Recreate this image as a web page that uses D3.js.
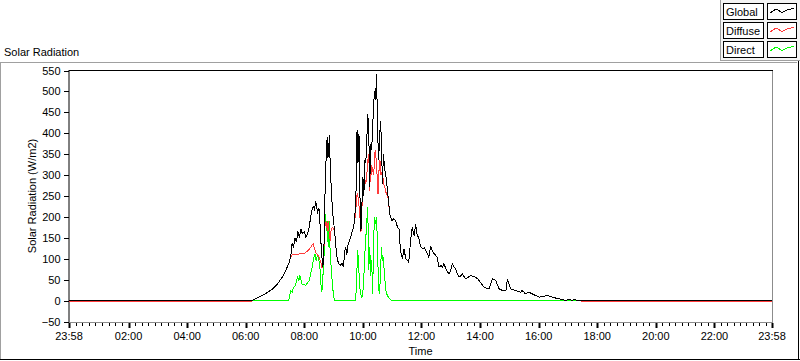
<!DOCTYPE html>
<html>
<head>
<meta charset="utf-8">
<script src="https://cdn.jsdelivr.net/npm/d3@7"></script>
<style>
  body { margin: 0; background: #fff; }
  svg { display: block; font-family: "Liberation Sans", Arial, sans-serif; font-size: 11px; }
</style>
</head>
<body>
<svg id="chart" width="800" height="361"></svg>
<script>
// Global radiation (W/m2)
const globalTime = ['23:58','06:13','06:20','06:27','06:40','06:48','06:55','07:05','07:15','07:22','07:28','07:32','07:35','07:38','07:41','07:44','07:47','07:50','07:53','07:56','08:00','08:03','08:07','08:10','08:13','08:16','08:19','08:21','08:23','08:25','08:27','08:30','08:32','08:34','08:36','08:38','08:40','08:42','08:44','08:46','08:47','08:48','08:50','08:51','08:53','08:55','08:58','09:02','09:06','09:10','09:14','09:17','09:20','09:23','09:25','09:27','09:29','09:32','09:35','09:38','09:41','09:43','09:45','09:47','09:48','09:50','09:52','09:54','09:56','09:58','10:00','10:02','10:04','10:06','10:08','10:10','10:12','10:14','10:16','10:18','10:20','10:22','10:24','10:26','10:28','10:30','10:32','10:34','10:36','10:38','10:40','10:42','10:45','10:48','10:51','10:55','10:59','11:03','11:07','11:11','11:14','11:17','11:21','11:24','11:28','11:31','11:34','11:38','11:41','11:45','11:48','11:51','11:55','11:58','12:02','12:06','12:09','12:12','12:15','12:19','12:22','12:26','12:29','12:32','12:36','12:40','12:43','12:46','12:50','12:53','12:56','13:00','13:03','13:07','13:10','13:14','13:17','13:21','13:24','13:28','13:31','13:36','13:41','13:46','13:51','13:55','13:58','14:03','14:08','14:13','14:18','14:22','14:25','14:29','14:32','14:36','14:39','14:46','14:53','14:56','14:59','15:03','15:08','15:13','15:18','15:23','15:26','15:30','15:33','15:40','15:47','15:54','16:01','16:10','16:18','16:23','16:28','16:35','16:42','16:50','16:55','17:00','17:09','17:15','17:22','17:40','23:58'];
const globalWm2 = [0,0,4,8,16,22,28,40,56,72,88,104,136,128,150,140,165,150,171,160,165,151,160,175,200,219,225,215,239,225,211,220,187,140,104,80,112,240,319,383,340,391,343,395,330,271,210,167,110,88,84,90,80,120,127,110,130,143,150,165,175,195,230,300,407,330,399,250,167,230,295,250,335,330,383,446,406,271,375,360,415,470,502,480,542,414,335,380,430,383,279,351,311,290,255,207,191,195,191,175,171,120,100,124,100,96,92,147,175,155,183,159,147,130,124,126,120,112,104,131,120,112,108,104,80,84,80,88,76,70,64,72,88,80,76,62,56,60,64,56,52,56,60,58,56,52,48,40,32,30,28,40,52,50,48,36,28,24,24,52,40,28,26,24,22,20,24,20,16,20,16,12,8,10,12,10,8,6,4,2,0,2,1,2,0,0,0];

// Diffuse radiation (W/m2)
const diffuseTime = ['23:58','06:10','06:13','06:20','06:27','06:40','06:48','06:55','07:05','07:15','07:22','07:28','07:32','07:36','07:42','07:48','07:53','07:58','08:03','08:08','08:13','08:16','08:18','08:21','08:23','08:27','08:30','08:33','08:36','08:38','08:40','08:42','08:45','08:47','08:49','08:51','08:53','08:55','08:58','09:02','09:06','09:10','09:14','09:17','09:20','09:23','09:25','09:27','09:29','09:32','09:35','09:38','09:41','09:43','09:45','09:47','09:49','09:51','09:54','09:56','09:58','10:00','10:03','10:06','10:08','10:10','10:12','10:14','10:16','10:18','10:20','10:22','10:25','10:27','10:29','10:31','10:33','10:35','10:37','10:40','10:42','10:45','10:48','10:51','10:55','10:59','11:03','11:07','11:11','11:14','11:17','11:21','11:24','11:28','11:31','11:34','11:38','11:41','11:45','11:48','11:51','11:55','11:58','12:02','12:06','12:09','12:12','12:15','12:19','12:22','12:26','12:29','12:32','12:36','12:40','12:43','12:46','12:50','12:53','12:56','13:00','13:03','13:07','13:10','13:14','13:17','13:21','13:24','13:28','13:31','13:36','13:41','13:46','13:51','13:55','13:58','14:03','14:08','14:13','14:18','14:22','14:25','14:29','14:32','14:36','14:39','14:46','14:53','14:56','14:59','15:03','15:08','15:13','15:18','15:23','15:26','15:30','15:33','15:40','15:47','15:54','16:01','16:10','16:18','16:23','16:28','16:35','16:42','16:50','16:55','17:00','17:09','17:15','17:22','17:35','23:58'];
const diffuseWm2 = [-3,-3,0,4,8,16,22,28,40,56,72,88,104,110,110,111,112,112,115,120,127,133,136,125,115,110,104,95,80,80,119,175,191,167,191,160,143,170,175,167,110,88,84,90,80,120,127,110,130,143,150,165,175,195,200,250,255,240,200,163,223,250,295,279,300,335,351,263,335,300,320,300,359,340,300,255,311,335,300,311,280,270,255,250,207,191,195,191,175,171,120,100,124,100,96,92,147,175,155,183,159,147,130,124,126,120,112,104,131,120,112,108,104,80,84,80,88,76,70,64,72,88,80,76,62,56,60,64,56,52,56,60,58,56,52,48,40,32,30,28,40,52,50,48,36,28,24,24,52,40,28,26,24,22,20,24,20,16,20,16,12,8,10,12,10,8,6,4,2,0,2,1,2,0,-3,-3];

// Direct radiation (W/m2)
const directTime = ['23:58','07:28','07:32','07:35','07:38','07:42','07:46','07:49','07:51','07:55','08:00','08:03','08:07','08:10','08:13','08:16','08:19','08:22','08:24','08:27','08:30','08:32','08:34','08:36','08:38','08:41','08:43','08:45','08:47','08:49','08:51','08:53','08:55','08:57','09:00','09:03','09:45','09:47','09:49','09:51','09:53','09:55','09:58','10:01','10:04','10:06','10:08','10:10','10:12','10:14','10:16','10:18','10:20','10:22','10:24','10:26','10:28','10:30','10:32','10:34','10:36','10:38','10:40','10:42','10:44','10:47','10:50','10:55','11:00','16:53','23:58'];
const directWm2 = [0,0,24,20,32,36,56,48,60,40,38,36,44,48,64,80,100,112,96,108,95,80,40,20,56,120,207,167,191,127,191,112,80,48,8,0,1,40,120,96,40,16,8,32,112,150,191,223,72,127,60,96,16,150,199,183,199,127,32,16,60,127,96,104,64,24,12,4,0,0,0];

const yTicks = [-50, 0, 50, 100, 150, 200, 250, 300, 350, 400, 450, 500, 550];
const seriesNames = ['Global', 'Diffuse', 'Direct'];
const seriesColors = ['#000000', '#ff3b3b', '#00ff00'];

const svg = d3.select('#chart');
const plot = { left: 69, right: 772, top: 70, bottom: 322 };

const dayStart = new Date(2024, 0, 1, 23, 58);
const dayEnd = new Date(2024, 0, 2, 23, 58);
const fmt = d3.timeFormat('%H:%M');

// first "23:58" of a series belongs to the previous evening
function toDates(times) {
  return times.map((s, i) => {
    const [h, m] = s.split(':').map(Number);
    if (i === 0) return new Date(dayStart);
    return s === '23:58' ? new Date(dayEnd) : new Date(2024, 0, 2, h, m);
  });
}

const x = d3.scaleTime().domain([dayStart, dayEnd]).range([plot.left, plot.right]);
const y = d3.scaleLinear().domain([-50, 550]).range([plot.bottom - 0.5, plot.top + 0.5]);

// outer frame
svg.append('line').attr('x1', 0).attr('x2', 797).attr('y1', 62.5).attr('y2', 62.5).attr('stroke', '#a0a0a0');
svg.append('line').attr('x1', 0.5).attr('x2', 0.5).attr('y1', 62).attr('y2', 360).attr('stroke', '#a0a0a0');
svg.append('line').attr('x1', 0).attr('x2', 800).attr('y1', 359.5).attr('y2', 359.5).attr('stroke', '#000');
svg.append('line').attr('x1', 798.5).attr('x2', 798.5).attr('y1', 53).attr('y2', 360).attr('stroke', '#000');

svg.append('text').attr('x', 4).attr('y', 56).attr('fill', '#000').text('Solar Radiation');

// plot box: dark top/left, grey bottom/right
svg.append('rect').attr('x', plot.left).attr('y', plot.top)
  .attr('width', plot.right - plot.left).attr('height', plot.bottom - plot.top).attr('fill', '#fff');
svg.append('line').attr('x1', plot.right + 0.5).attr('x2', plot.right + 0.5)
  .attr('y1', plot.top).attr('y2', plot.bottom + 1).attr('stroke', '#8c8c8c');
svg.append('line').attr('x1', plot.left).attr('x2', plot.right + 1)
  .attr('y1', plot.bottom + 0.5).attr('y2', plot.bottom + 0.5).attr('stroke', '#8c8c8c');
svg.append('line').attr('x1', plot.left - 0.5).attr('x2', plot.right + 1)
  .attr('y1', plot.top + 0.5).attr('y2', plot.top + 0.5).attr('stroke', '#000');

// y axis
const yAxis = d3.axisLeft(y).tickValues(yTicks).tickSize(5).tickPadding(3).tickSizeOuter(0);
const gy = svg.append('g').attr('transform', `translate(${plot.left - 0.5},0)`).call(yAxis);
gy.select('.domain').attr('stroke', '#000');
gy.selectAll('.tick line').attr('shape-rendering', 'crispEdges');
gy.selectAll('text').attr('font-size', 11).attr('font-family', '"Liberation Sans", Arial, sans-serif').attr('fill', '#000');

svg.append('text')
  .attr('transform', `translate(36,${(plot.top + plot.bottom) / 2}) rotate(-90)`)
  .attr('text-anchor', 'middle').attr('fill', '#000')
  .text('Solar Radiation (W/m2)');

// x axis: labelled every 2 h plus both ends, 8 minor ticks in between
const majors = [dayStart, ...d3.timeHour.every(2).range(new Date(2024, 0, 2, 1), new Date(2024, 0, 2, 23)), dayEnd];
const minors = [];
for (let i = 0; i < majors.length - 1; i++) {
  const a = +majors[i], b = +majors[i + 1];
  for (let k = 1; k < 9; k++) minors.push(new Date(a + (b - a) * k / 9));
}

const gx = svg.append('g').attr('transform', `translate(0,${plot.bottom + 1})`);
gx.selectAll('line.minor').data(minors).enter().append('line')
  .attr('class', 'minor')
  .attr('x1', (d) => Math.round(x(d)) + 0.5).attr('x2', (d) => Math.round(x(d)) + 0.5)
  .attr('y1', 0).attr('y2', 3).attr('stroke', '#000');
gx.selectAll('rect.major').data(majors).enter().append('rect')
  .attr('class', 'major')
  .attr('x', (d) => Math.round(x(d)) - 0.5).attr('y', 0)
  .attr('width', 2).attr('height', 5).attr('fill', '#000');
gx.selectAll('text').data(majors).enter().append('text')
  .attr('x', (d) => x(d)).attr('y', 17)
  .attr('text-anchor', 'middle').attr('fill', '#000')
  .text((d) => fmt(d));

svg.append('text').attr('x', (plot.left + plot.right) / 2).attr('y', 355)
  .attr('text-anchor', 'middle').attr('fill', '#000').text('Time');

// data lines: direct first, global on top
const series = [
  { times: globalTime, vals: globalWm2 },
  { times: diffuseTime, vals: diffuseWm2 },
  { times: directTime, vals: directWm2 },
].map((s, i) => ({
  name: seriesNames[i],
  color: seriesColors[i],
  pts: toDates(s.times).map((t, j) => [t, s.vals[j]]),
}));

const line = d3.line().x((d) => x(d[0])).y((d) => y(d[1]));

svg.append('g')
  .selectAll('path')
  .data(series.slice().reverse())
  .enter()
  .append('path')
  .attr('d', (d) => line(d.pts))
  .attr('fill', 'none')
  .attr('stroke', (d) => d.color)
  .attr('stroke-width', 1)
  .attr('shape-rendering', 'crispEdges');

// legend panel, top right
const legend = svg.append('g');
legend.append('rect').attr('x', 720.5).attr('y', -1).attr('width', 80).attr('height', 61.5)
  .attr('fill', '#f4f4f4').attr('stroke', '#a0a0a0');

const sample = [[0, 0.65], [0.25, 0.25], [0.5, 0.6], [0.72, 0.35], [1, 0.15]];
seriesNames.forEach((name, i) => {
  const top = 3.5 + i * 19;
  legend.append('rect').attr('x', 723.5).attr('y', top).attr('width', 40).attr('height', 16)
    .attr('fill', '#fff').attr('stroke', '#000');
  legend.append('text').attr('x', 726).attr('y', top + 12).attr('fill', '#000').text(name);
  legend.append('rect').attr('x', 767.5).attr('y', top).attr('width', 29).attr('height', 16)
    .attr('fill', '#fff').attr('stroke', '#000');
  legend.append('path')
    .attr('d', d3.line()(sample.map(([u, v]) => [770 + u * 24, top + 3 + v * 10])))
    .attr('fill', 'none').attr('stroke', seriesColors[i]).attr('stroke-width', 1)
    .attr('shape-rendering', 'crispEdges');
});
</script>
</body>
</html>
